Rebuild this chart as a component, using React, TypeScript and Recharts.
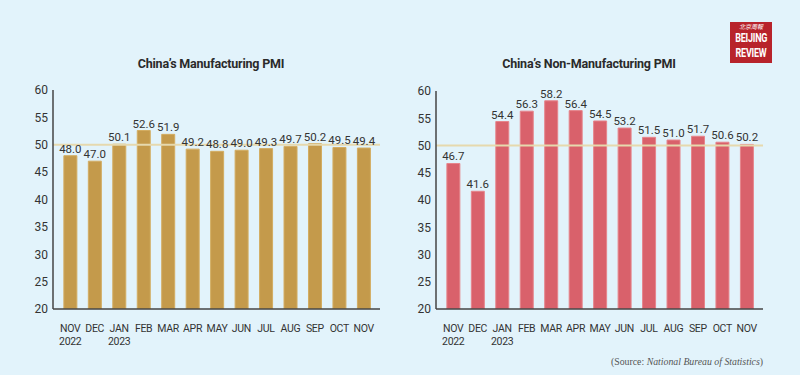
import React from "react";
import { BarChart, Bar, XAxis, YAxis, ReferenceLine, LabelList } from "recharts";

const months = ["NOV", "DEC", "JAN", "FEB", "MAR", "APR", "MAY", "JUN", "JUL", "AUG", "SEP", "OCT", "NOV"];
const years = ["2022", "", "2023", "", "", "", "", "", "", "", "", "", ""];
const manufacturing = [48.0, 47.0, 50.1, 52.6, 51.9, 49.2, 48.8, 49.0, 49.3, 49.7, 50.2, 49.5, 49.4];
const nonManufacturing = [46.7, 41.6, 54.4, 56.3, 58.2, 56.4, 54.5, 53.2, 51.5, 51.0, 51.7, 50.6, 50.2];
const yTicks = [20, 25, 30, 35, 40, 45, 50, 55, 60];

const mfgData = months.map((m, i) => ({ key: i, month: m, year: years[i], value: manufacturing[i] }));
const nonMfgData = months.map((m, i) => ({ key: i, month: m, year: years[i], value: nonManufacturing[i] }));

const FONT = "Roboto, 'Noto Sans', sans-serif";
const TEXT = "#333";

const MonthTick = (props: any) => {
  const { x, y, payload } = props;
  const i = payload.value as number;
  return (
    <g transform={`translate(${x},${y})`}>
      <text x={0} y={0} textAnchor="middle" fontFamily={FONT} fontSize={10.5} fill={TEXT} letterSpacing={-0.3}>
        <tspan x={0} dy={15}>{months[i]}</tspan>
        {years[i] ? <tspan x={0} dy={12.5}>{years[i]}</tspan> : null}
      </text>
    </g>
  );
};

const fmt = (v: any) => Number(v).toFixed(1);

function PMIChart({ data, color, stroke, width, yWidth, marginRight, top }: any) {
  return (
    <BarChart
      width={width}
      height={375}
      data={data}
      margin={{ top: top, right: marginRight, bottom: 36, left: 0 }}
      barCategoryGap="24%"
    >
      <XAxis
        dataKey="key"
        type="category"
        tick={<MonthTick />}
        tickLine={false}
        axisLine={{ stroke: "#444", strokeWidth: 1.5 }}
        interval={0}
        height={30}
        padding={{ left: 5, right: 4 }}
      />
      <YAxis
        domain={[20, 60]}
        ticks={yTicks}
        width={yWidth}
        tickLine={false}
        tickSize={0}
        tickMargin={5}
        axisLine={{ stroke: "#444", strokeWidth: 1.5 }}
        tick={{ fill: TEXT, fontSize: 12, fontFamily: FONT }}
        allowDataOverflow
      />
      <ReferenceLine y={50} stroke="#e6d9ae" strokeWidth={2} />
      <Bar dataKey="value" fill={color} stroke={stroke} strokeWidth={1} isAnimationActive={false}>
        <LabelList dataKey="value" position="top" offset={3} formatter={fmt} fill={TEXT} fontSize={11.5} fontFamily={FONT} />
      </Bar>
    </BarChart>
  );
}

export default function App() {
  return (
    <div style={{ position: "absolute", left: 0, top: 0, width: 800, height: 375, background: "#e2f3fb", overflow: "hidden" }}>
      <div style={{ position: "absolute", left: 0, top: 0 }}>
        <PMIChart data={mfgData} color="#c49a4b" stroke="#d3ad62" width={400} yWidth={53} marginRight={20} top={90} />
      </div>
      <div style={{ position: "absolute", left: 400, top: 0 }}>
        <PMIChart data={nonMfgData} color="#d9616b" stroke="#e6858c" width={380} yWidth={36} marginRight={17} top={91} />
      </div>
      <div style={{ position: "absolute", left: 111, top: 56, width: 200, textAlign: "center", fontFamily: FONT, fontWeight: 700, fontSize: 12.5, color: "#2a2a2a", letterSpacing: -0.2 }}>
        China’s Manufacturing PMI
      </div>
      <div style={{ position: "absolute", left: 489, top: 56, width: 200, textAlign: "center", fontFamily: FONT, fontWeight: 700, fontSize: 12.5, color: "#2a2a2a", letterSpacing: -0.2 }}>
        China’s Non-Manufacturing PMI
      </div>
      <div style={{ position: "absolute", left: 730, top: 22, width: 42, height: 41, background: "#b8232b", color: "#fff", textAlign: "center", overflow: "hidden" }}>
        <div style={{ fontSize: 6, lineHeight: "8px", marginTop: 1, fontFamily: "'Noto Sans CJK SC', sans-serif", fontStyle: "italic" }}>北京周報</div>
        <div style={{ fontFamily: FONT, fontWeight: 700, fontSize: 12, lineHeight: "15px", transform: "scaleX(0.75)", letterSpacing: -0.3 }}>BEIJING</div>
        <div style={{ fontFamily: FONT, fontWeight: 700, fontSize: 12, lineHeight: "15px", transform: "scaleX(0.75)", letterSpacing: -0.3 }}>REVIEW</div>
      </div>
      <div style={{ position: "absolute", left: 611, top: 356, fontFamily: "'Liberation Serif', 'DejaVu Serif', serif", fontSize: 9.8, color: "#555", whiteSpace: "nowrap" }}>
        (Source: <i>National Bureau of Statistics</i>)
      </div>
    </div>
  );
}
